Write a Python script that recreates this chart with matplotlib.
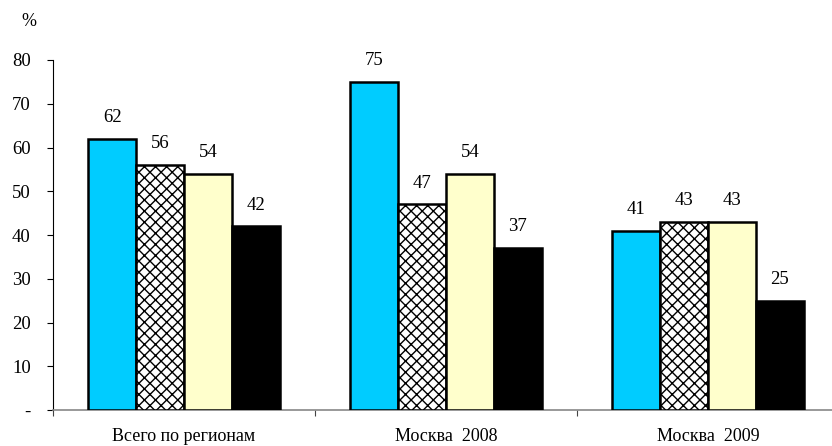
import matplotlib
matplotlib.use("Agg")
import matplotlib.pyplot as plt
import numpy as np

plt.rcParams['font.family'] = ['Liberation Serif', 'DejaVu Serif']
plt.rcParams['hatch.color'] = '#444444'
plt.rcParams['hatch.linewidth'] = 1.0

categories = ["Всего по регионам", "Москва  2008", "Москва  2009"]
series_1 = [62, 75, 41]
series_2 = [56, 47, 43]
series_3 = [54, 54, 43]
series_4 = [42, 37, 25]
y_ticks = [0, 10, 20, 30, 40, 50, 60, 70, 80]
y_tick_labels = ["-", "10", "20", "30", "40", "50", "60", "70", "80"]

fig = plt.figure(figsize=(8.32, 4.46), dpi=100)
ax = fig.add_axes([53 / 832, 1 - 410 / 446, 786 / 832, 350 / 446])

x = np.arange(len(categories))
w = 0.183
styles = [
    dict(facecolor='#00CCFF'),
    dict(facecolor='white', hatch='xxx'),
    dict(facecolor='#FFFFCC'),
    dict(facecolor='black'),
]
for i, (vals, st) in enumerate(zip([series_1, series_2, series_3, series_4], styles)):
    pos = x + (i - 1.5) * w
    ax.bar(pos, vals, width=w, edgecolor='black', linewidth=1.8, zorder=3, **st)
    for p, v in zip(pos, vals):
        ax.annotate(str(v), (p, v), xytext=(0, 12), textcoords='offset points',
                    ha='center', va='baseline', fontsize=13.5)

ax.set_xlim(-0.5, 2.5)
ax.set_ylim(0, 80)
ax.set_yticks(y_ticks)
ax.set_yticklabels(y_tick_labels, fontsize=13.5)
ax.tick_params(axis='y', direction='out', length=4, width=0.8, pad=12)

ax.set_xticks([-0.5, 0.5, 1.5])
ax.set_xticklabels([])
ax.set_xticks(x, minor=True)
ax.set_xticklabels(categories, minor=True, fontsize=13)
ax.tick_params(axis='x', which='major', direction='out', length=4, width=0.8, color='#444444')
ax.tick_params(axis='x', which='minor', length=0, pad=13)

for s in ['top', 'right']:
    ax.spines[s].set_visible(False)
ax.spines['left'].set_color('black')
ax.spines['left'].set_linewidth(0.8)
ax.spines['bottom'].set_color('#888888')
ax.spines['bottom'].set_linewidth(1.2)

fig.text(29 / 832, 1 - 22 / 446, "%", ha='center', va='center', fontsize=13)

fig.savefig("out.png", dpi=100)
